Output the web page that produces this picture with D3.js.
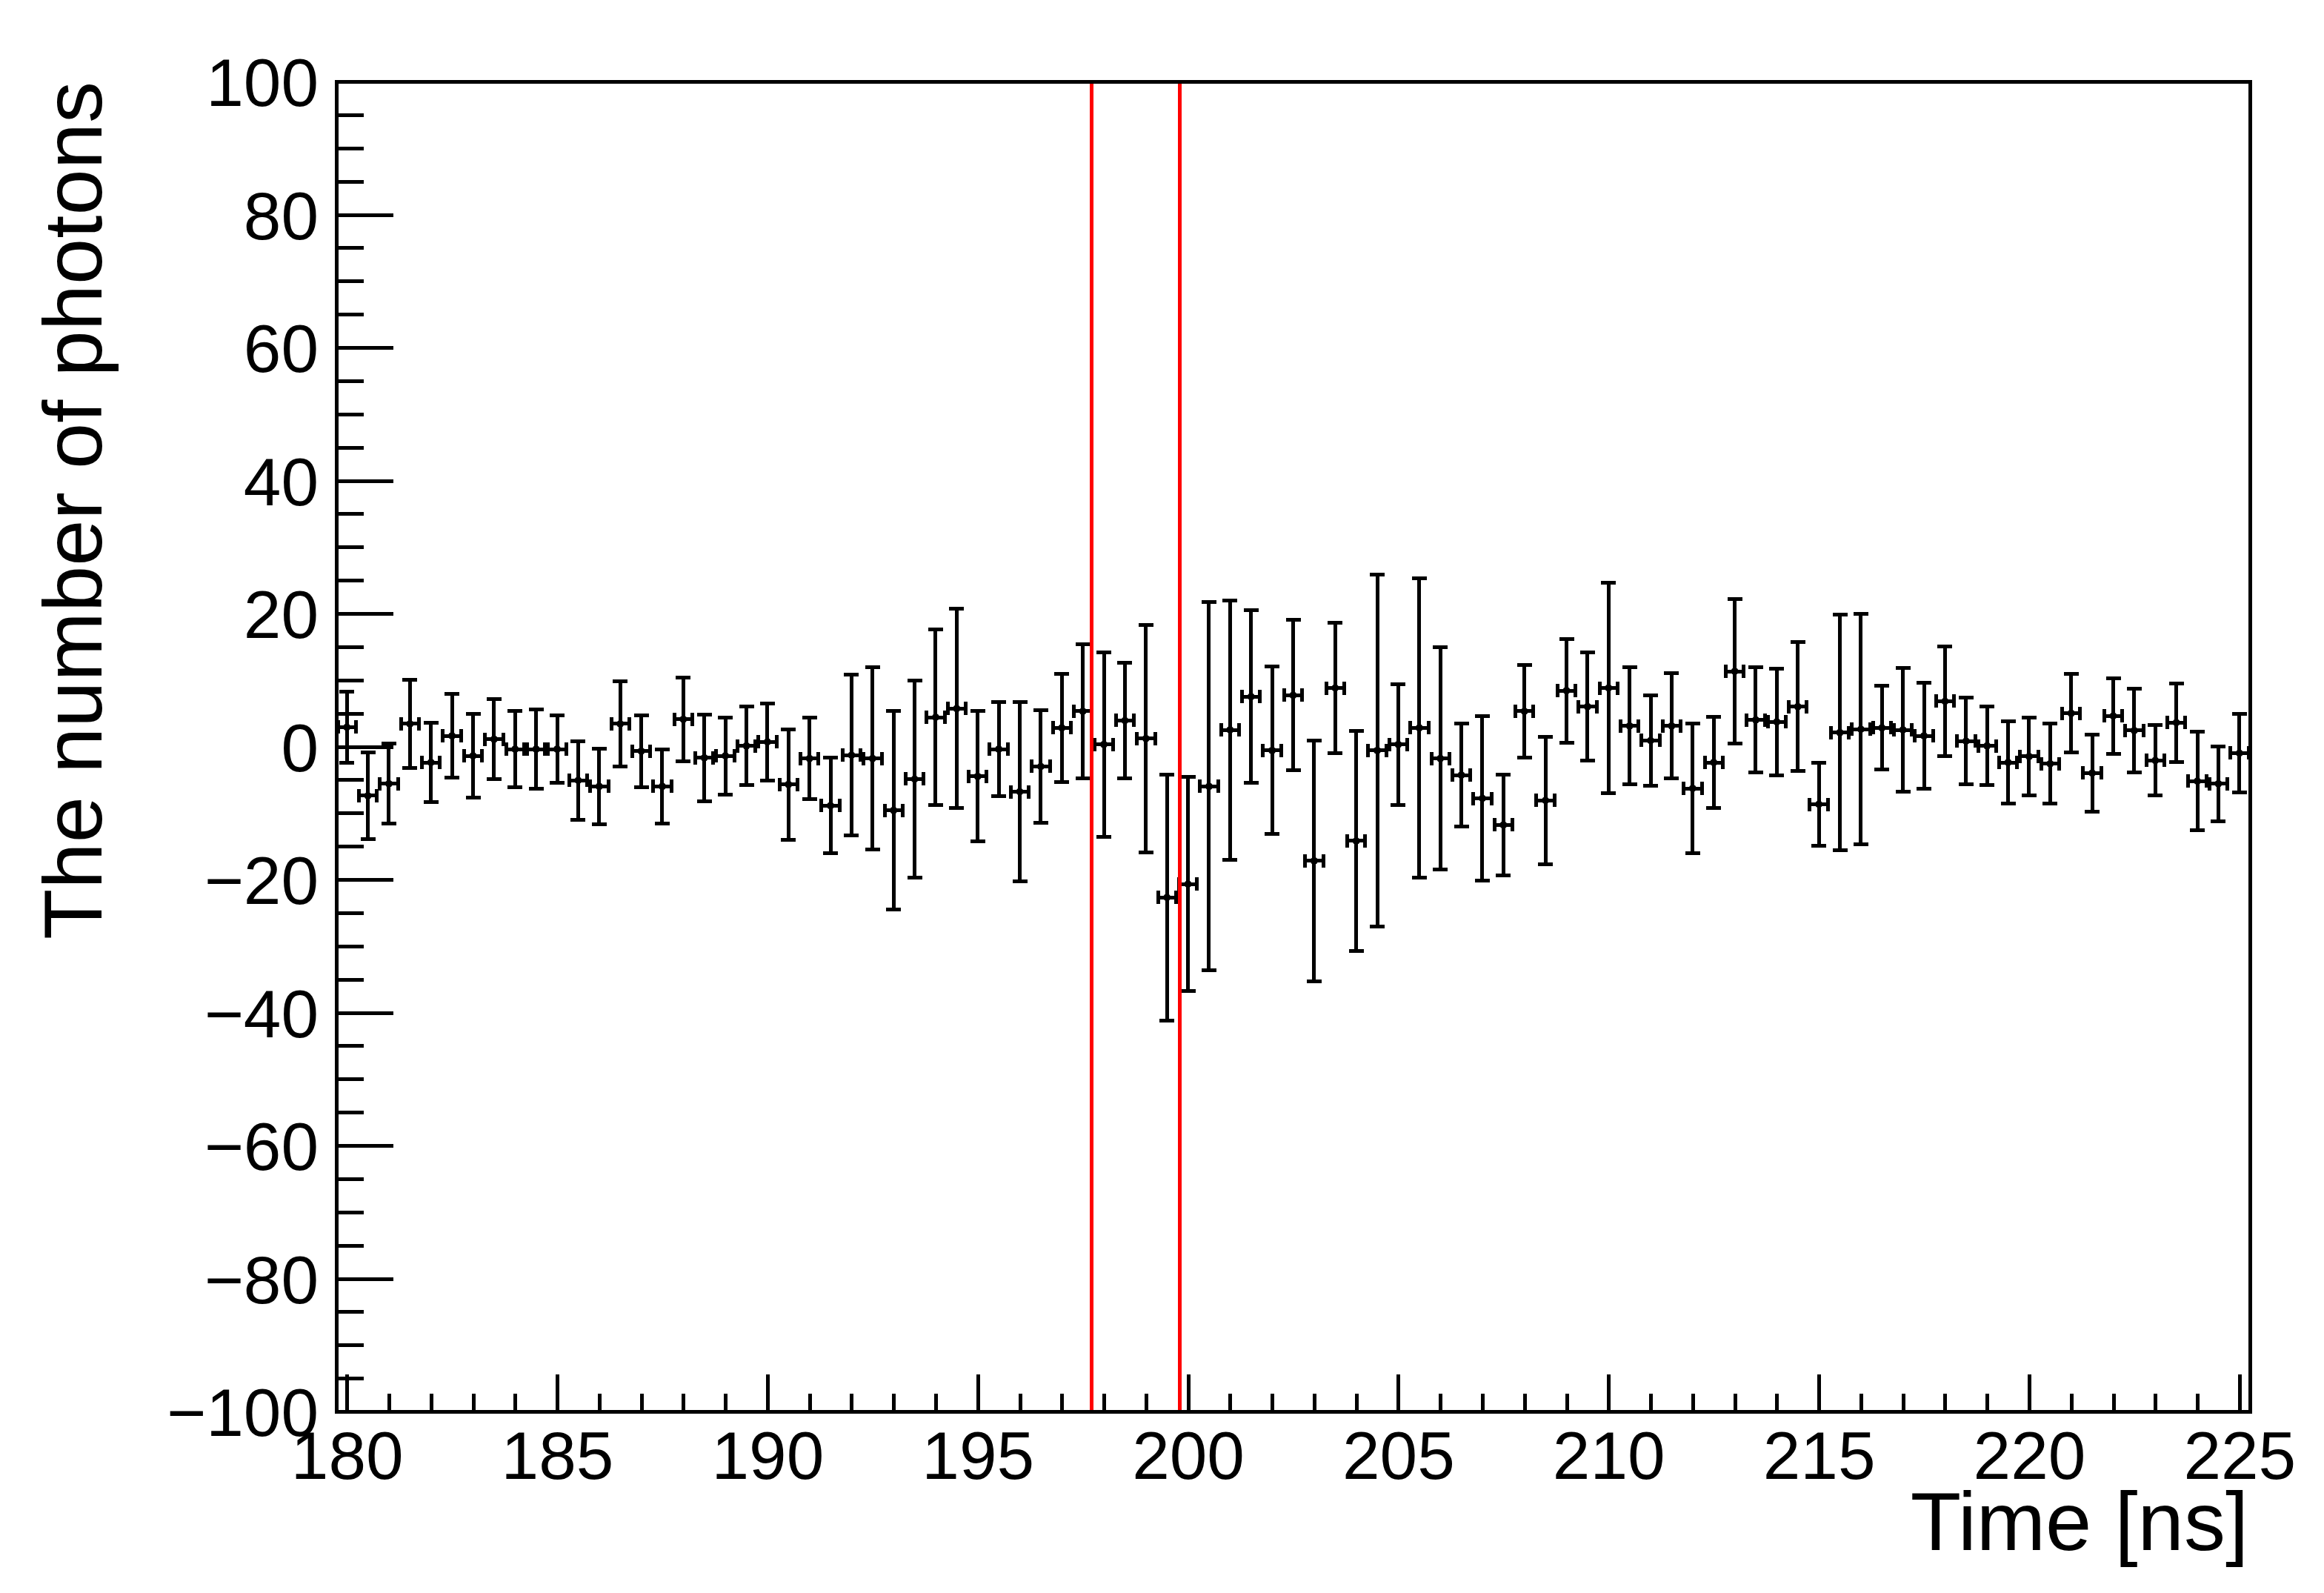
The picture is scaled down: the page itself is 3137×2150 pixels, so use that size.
<html>
<head>
<meta charset="utf-8">
<style>
    body { margin: 0; background: #fff; }
    text { font-family: "Liberation Sans", Arial, sans-serif; fill: #000; }
    line, rect { shape-rendering: crispEdges; }
</style>
</head>
<body>
<svg width="3137" height="2150"></svg>
<script src="https://d3js.org/d3.v7.min.js"></script>
<script>
    // bin centres [ns], counts and their errors
    var times = [180, 180.5, 181, 181.5, 182, 182.5, 183, 183.5, 184, 184.5,
        185, 185.5, 186, 186.5, 187, 187.5, 188, 188.5, 189, 189.5,
        190, 190.5, 191, 191.5, 192, 192.5, 193, 193.5, 194, 194.5,
        195, 195.5, 196, 196.5, 197, 197.5, 198, 198.5, 199, 199.5,
        200, 200.5, 201, 201.5, 202, 202.5, 203, 203.5, 204, 204.5,
        205, 205.5, 206, 206.5, 207, 207.5, 208, 208.5, 209, 209.5,
        210, 210.5, 211, 211.5, 212, 212.5, 213, 213.5, 214, 214.5,
        215, 215.5, 216, 216.5, 217, 217.5, 218, 218.5, 219, 219.5,
        220, 220.5, 221, 221.5, 222, 222.5, 223, 223.5, 224, 224.5, 225];
    var photons = [2.9, -7.4, -5.6, 3.4, -2.4, 1.6, -1.4, 1.1, -0.4, -0.4,
        -0.4, -5.1, -6.0, 3.4, -0.7, -6.0, 4.1, -1.7, -1.4, 0.1,
        0.7, -5.7, -1.8, -8.9, -1.3, -1.8, -9.6, -4.9, 4.4, 5.7,
        -4.5, -0.4, -6.8, -3.0, 2.8, 5.3, 0.3, 3.9, 1.2, -22.7,
        -20.7, -6.0, 2.5, 7.5, -0.6, 7.7, -17.2, 8.8, -14.2, -0.6,
        0.3, 2.8, -1.8, -4.3, -7.8, -11.8, 5.3, -8.1, 8.4, 6.0,
        8.8, 3.1, 0.9, 3.1, -6.3, -2.4, 11.3, 4.0, 3.7, 6.0,
        -8.7, 2.1, 2.6, 2.8, 2.5, 1.6, 6.8, 0.8, 0.1, -2.4,
        -1.5, -2.6, 5.0, -4.0, 4.6, 2.4, -2.1, 3.6, -5.2, -5.6, -1.0];
    var errors = [5.4, 6.5, 6.0, 6.6, 6.0, 6.3, 6.3, 6.0, 5.7, 6.0,
        5.1, 5.9, 5.7, 6.4, 5.4, 5.6, 6.3, 6.5, 5.8, 5.9,
        5.8, 8.3, 6.1, 7.2, 12.1, 13.7, 14.9, 14.8, 13.2, 15.0,
        9.8, 7.1, 13.5, 8.5, 8.1, 10.1, 13.9, 8.7, 17.1, 18.5,
        16.1, 27.7, 19.5, 13.0, 12.6, 11.3, 18.1, 9.8, 16.5, 26.5,
        9.1, 22.5, 16.7, 7.7, 12.4, 7.6, 7.0, 9.6, 7.8, 8.1,
        15.8, 8.8, 6.8, 7.9, 9.8, 6.9, 10.9, 7.9, 8.0, 9.7,
        6.2, 17.7, 17.3, 6.3, 9.3, 8.0, 8.2, 6.5, 5.9, 6.2,
        5.9, 6.0, 5.9, 5.8, 5.7, 6.3, 5.3, 5.9, 7.4, 5.6, 5.9];
    var binHalf = 0.25;
    var redLines = [197.7, 199.8];
    var xMajor = [180, 185, 190, 195, 200, 205, 210, 215, 220, 225];
    var yMajor = [-100, -80, -60, -40, -20, 0, 20, 40, 60, 80, 100];

    var svg = d3.select("svg");
    var padL = 454, padR = 3037, padT = 110, padB = 1905;

    var x = d3.scaleLinear().domain([179.75, 225.25]).range([padL, padR]);
    var y = d3.scaleLinear().domain([-100, 100]).range([padB, padT]);

    var data = times.map((t, i) => ({ t: t, v: photons[i], e: errors[i] }));

    // axes: major ticks with labels, minor ticks without
    var xMinor = d3.range(180, 225.5, 1).filter(d => xMajor.indexOf(d) < 0);
    var yMinor = d3.range(-100, 100.5, 5).filter(d => yMajor.indexOf(d) < 0);

    var gx = svg.append("g").attr("transform", "translate(0," + padB + ")");
    gx.call(d3.axisBottom(x).tickValues(xMajor).tickSize(-50).tickFormat(d3.format("d")));
    gx.append("g").call(d3.axisBottom(x).tickValues(xMinor).tickSize(-24).tickFormat(""));

    var gy = svg.append("g").attr("transform", "translate(" + padL + ",0)");
    gy.call(d3.axisLeft(y).tickValues(yMajor).tickSize(-77).tickFormat(d3.format("d")));
    gy.append("g").call(d3.axisLeft(y).tickValues(yMinor).tickSize(-37).tickFormat(""));

    svg.selectAll(".domain").remove();
    svg.selectAll(".tick line").attr("stroke", "#000").attr("stroke-width", 5);
    gx.selectAll(".tick text").attr("y", 91).attr("dy", null)
        .style("font-size", "91px").style("font-family", "Liberation Sans, Arial, sans-serif");
    gy.selectAll(".tick text").attr("x", -24).attr("dy", "0.36em")
        .style("font-size", "91px").style("font-family", "Liberation Sans, Arial, sans-serif");

    // error bars
    var pts = svg.append("g").attr("stroke", "#000").attr("stroke-width", 5);
    var p = pts.selectAll("g").data(data).enter().append("g");
    p.append("line")
        .attr("x1", d => x(d.t)).attr("x2", d => x(d.t))
        .attr("y1", d => y(d.v + d.e)).attr("y2", d => y(d.v - d.e));
    p.append("line")
        .attr("x1", d => x(d.t) - 10).attr("x2", d => x(d.t) + 10)
        .attr("y1", d => y(d.v + d.e)).attr("y2", d => y(d.v + d.e));
    p.append("line")
        .attr("x1", d => x(d.t) - 10).attr("x2", d => x(d.t) + 10)
        .attr("y1", d => y(d.v - d.e)).attr("y2", d => y(d.v - d.e));
    p.append("line")
        .attr("x1", d => x(d.t - binHalf)).attr("x2", d => x(d.t + binHalf))
        .attr("y1", d => y(d.v)).attr("y2", d => y(d.v));
    p.append("line")
        .attr("x1", d => x(d.t - binHalf) + 2).attr("x2", d => x(d.t - binHalf) + 2)
        .attr("y1", d => y(d.v) - 9).attr("y2", d => y(d.v) + 9);
    p.append("line")
        .attr("x1", d => x(d.t + binHalf) - 2).attr("x2", d => x(d.t + binHalf) - 2)
        .attr("y1", d => y(d.v) - 9).attr("y2", d => y(d.v) + 9);
    p.append("circle")
        .attr("cx", d => x(d.t)).attr("cy", d => y(d.v))
        .attr("r", 5).attr("fill", "#000").attr("stroke", "none");

    // red markers
    svg.append("g").selectAll("line").data(redLines).enter().append("line")
        .attr("x1", d => x(d)).attr("x2", d => x(d))
        .attr("y1", y(-100)).attr("y2", y(100))
        .attr("stroke", "#ff0000").attr("stroke-width", 5);

    // frame
    svg.append("rect")
        .attr("x", padL).attr("y", padT)
        .attr("width", padR - padL).attr("height", padB - padT)
        .attr("fill", "none").attr("stroke", "#000").attr("stroke-width", 5);

    // titles
    svg.append("text")
        .attr("x", 3035).attr("y", 2092)
        .attr("text-anchor", "end")
        .style("font-size", "112px")
        .text("Time [ns]");
    svg.append("text")
        .attr("transform", "rotate(-90)")
        .attr("x", -110).attr("y", 137)
        .attr("text-anchor", "end")
        .style("font-size", "112px")
        .text("The number of photons");
</script>
</body>
</html>
